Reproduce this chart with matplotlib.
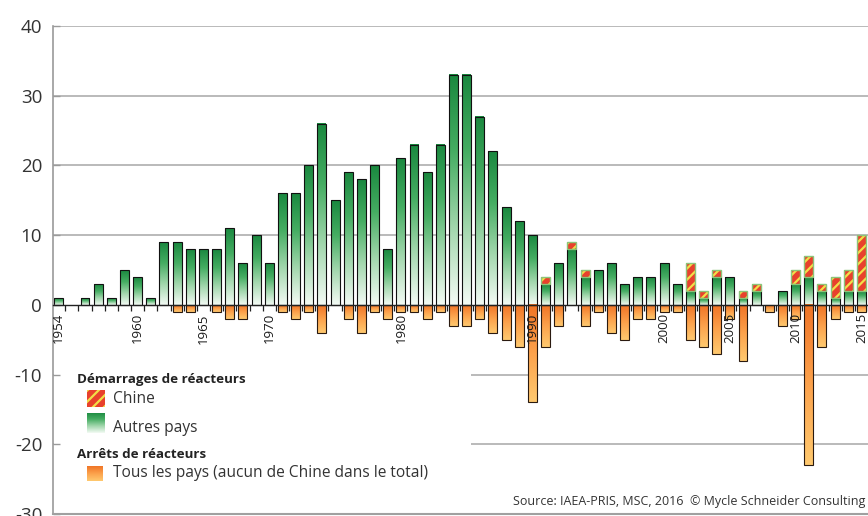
import numpy as np
import matplotlib
matplotlib.use("Agg")
import matplotlib.pyplot as plt
from matplotlib.colors import LinearSegmentedColormap
from matplotlib.patches import Rectangle

plt.rcParams['font.family'] = ['Open Sans', 'DejaVu Sans']
plt.rcParams['axes.unicode_minus'] = False
plt.rcParams['hatch.linewidth'] = 1.6

# reactor startups (non-China), startups in China, shutdowns - per year
years = np.arange(1954, 2016)
others = np.array([1, 0, 1, 3, 1, 5,
                   4, 1, 9, 9, 8, 8, 8, 11, 6, 10,
                   6, 16, 16, 20, 26, 15, 19, 18, 20, 8,
                   21, 23, 19, 23, 33, 33, 27, 22, 14, 12,
                   10, 3, 6, 8, 4, 5, 6, 3, 4, 4,
                   6, 3, 2, 1, 4, 4, 1, 2, 0, 2,
                   3, 4, 2, 1, 2, 2])
china = np.array([0, 0, 0, 0, 0, 0,
                  0, 0, 0, 0, 0, 0, 0, 0, 0, 0,
                  0, 0, 0, 0, 0, 0, 0, 0, 0, 0,
                  0, 0, 0, 0, 0, 0, 0, 0, 0, 0,
                  0, 1, 0, 1, 1, 0, 0, 0, 0, 0,
                  0, 0, 4, 1, 1, 0, 1, 1, 0, 0,
                  2, 3, 1, 3, 3, 8])
shutdowns = np.array([0, 0, 0, 0, 0, 0,
                      0, 0, 0, 1, 1, 0, 1, 2, 2, 0,
                      0, 1, 2, 1, 4, 0, 2, 4, 1, 2,
                      1, 1, 2, 1, 3, 3, 2, 4, 5, 6,
                      14, 6, 3, 0, 3, 1, 4, 5, 2, 2,
                      1, 1, 5, 6, 7, 2, 8, 0, 1, 3,
                      2, 23, 6, 2, 1, 1])
label_years = [1954, 1960, 1965, 1970, 1980, 1990, 2000, 2005, 2010, 2015]

W, H = 868, 516
def fx(x):
    return x / W
def fy(y):
    return 1 - y / H

green = LinearSegmentedColormap.from_list(
    'g', ['#f4fbf5', '#a2d7ad', '#45ad62', '#1a883f'])
orange = LinearSegmentedColormap.from_list(
    'o', ['#ffc96f', '#fca24c', '#f07426'])
RED, YELLOW, CH_EDGE = '#e8412c', '#f2df48', '#8cc47a'

fig = plt.figure(figsize=(W / 100, H / 100), dpi=100)
ax = fig.add_axes([fx(53.3), 2 / H, (W - 53.3) / W, 488 / H])

width = 0.68
grad = np.linspace(0, 1, 256).reshape(-1, 1)

def fill_gradient(bars, cmap):
    for b in bars:
        x0, y0, w, h = b.get_x(), b.get_y(), b.get_width(), b.get_height()
        lo, hi = min(y0, y0 + h), max(y0, y0 + h)
        ax.imshow(grad, extent=(x0, x0 + w, lo, hi), origin='lower',
                  cmap=cmap, aspect='auto', zorder=2,
                  interpolation='bilinear')

m = others > 0
gbars = ax.bar(years[m], others[m], width, facecolor='none',
               edgecolor='#111111', lw=0.8, zorder=2.2)
fill_gradient(gbars, green)

m = shutdowns > 0
obars = ax.bar(years[m], -shutdowns[m], width, facecolor='none',
               edgecolor='#2a1a10', lw=0.8, zorder=2.2)
fill_gradient(obars, orange)

m = china > 0
ax.bar(years[m], china[m], width, bottom=others[m], color=RED,
       edgecolor=YELLOW, hatch='///', lw=0, zorder=2.1)
ax.bar(years[m], china[m], width, bottom=others[m], fill=False,
       edgecolor=CH_EDGE, lw=1.0, zorder=2.2)

# grid lines
for v in [-20, -10, 10, 20, 30, 40]:
    ax.axhline(v, color='#b4b4b4', lw=1.3, zorder=0.5)
ax.axhline(-30, color='#a0a0a0', lw=1.5, zorder=2.6, clip_on=False)

# white block behind legend
ax.add_patch(Rectangle((fx(54), fy(514)), fx(471) - fx(54), (514 - 352) / H,
                       transform=fig.transFigure, facecolor='white',
                       edgecolor='none', zorder=0.8))

ax.set_xlim(1953.59, 2015.31)
ax.set_ylim(-30, 40)
ax.set_axisbelow(False)

for s in ['top', 'right']:
    ax.spines[s].set_visible(False)
ax.spines['left'].set_color('#9a9a9a')
ax.spines['left'].set_linewidth(1.2)
ax.spines['bottom'].set_position(('data', 0))
ax.spines['bottom'].set_color('#222222')
ax.spines['bottom'].set_linewidth(1.0)
ax.spines['bottom'].set_zorder(2.6)

ax.set_yticks(np.arange(-30, 41, 10))
ax.tick_params(axis='y', direction='in', length=5, width=1, color='#9a9a9a',
               labelsize=13.5, labelcolor='#333333', pad=8)

ax.set_xticks(label_years)
ax.set_xticks(years + 0.5, minor=True)
ax.tick_params(axis='x', which='major', length=0, labelrotation=90,
               labelsize=9.5, labelcolor='#1a1a1a', pad=6)
ax.tick_params(axis='x', which='minor', length=4, width=0.9,
               color='#222222', direction='out')

# legend
fig.text(fx(77), fy(380), 'Démarrages de réacteurs', fontsize=9.6,
         fontweight='bold', va='center', ha='left', color='#222222')
fig.text(fx(113), fy(399), 'Chine', fontsize=11.2, va='center',
         color='#333333')
fig.text(fx(113), fy(428), 'Autres pays', fontsize=11.2, va='center',
         color='#333333')
fig.text(fx(77), fy(455), 'Arrêts de réacteurs', fontsize=9.6,
         fontweight='bold', va='center', ha='left', color='#222222')
fig.text(fx(113), fy(473), 'Tous les pays (aucun de Chine dans le total)',
         fontsize=11.2, va='center', color='#333333')

sw = fig.add_axes([fx(87), fy(407), (105 - 87) / W, (407 - 390) / H])
sw.add_patch(Rectangle((0, 0), 1, 1, facecolor=RED, edgecolor=YELLOW,
                       hatch='///', lw=0))
sw.set_xlim(0, 1); sw.set_ylim(0, 1); sw.axis('off')

sw = fig.add_axes([fx(87), fy(433), (105 - 87) / W, (433 - 413) / H])
sw.imshow(grad, origin='lower', cmap=green, aspect='auto', extent=(0, 1, 0, 1))
sw.axis('off')

sw = fig.add_axes([fx(87), fy(481), (103 - 87) / W, (481 - 466) / H])
sw.imshow(grad, origin='lower', cmap=orange, aspect='auto', extent=(0, 1, 0, 1))
sw.axis('off')

fig.text(fx(865), fy(502),
         'Source: IAEA-PRIS, MSC, 2016  \u00a9 Mycle Schneider Consulting',
         ha='right', va='center', fontsize=9, color='#333333')

fig.savefig('out.png', dpi=100)
